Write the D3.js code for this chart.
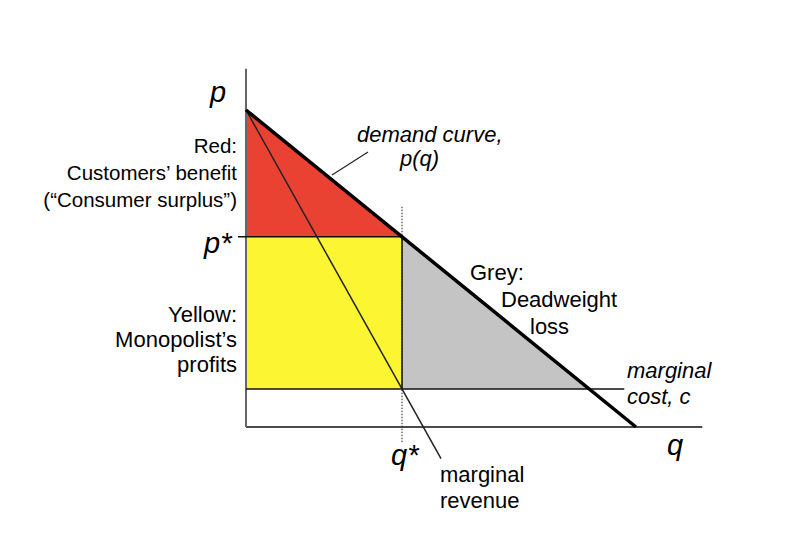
<!DOCTYPE html>
<html>
  <head>
    <meta charset="utf-8">
    <title>Monopoly pricing</title>
    <script src="https://d3js.org/d3.v7.min.js"></script>
    <style>
      body { margin: 0; background: #fff; }
      text { font-family: "Liberation Sans", Arial, sans-serif; fill: #000; }
      .big { font-size: 29px; font-style: italic; }
      .lbl { font-size: 22px; }
      .small { font-size: 20.5px; }
      .it { font-style: italic; }
    </style>
  </head>
  <body>
    <div id="chart"></div>

    <script>
      // model values (q, p)
      const demand = [[0, 10], [10, 0]];
      const marginalRevenue = [[0, 10], [5.0, -1.0]];
      const pStar = 6;
      const qStar = 4;
      const cost = 1.2;
      const qMax = 11.7;   // end of q axis
      const pMax = 11.3;   // top of p axis
      const mcEnd = 9.7;   // where the marginal cost line stops
      const qStarGuide = [6.95, -0.5];

      // shaded regions
      const consumerSurplus = [[0, 10], [0, pStar], [qStar, pStar]];
      const profits = [[0, pStar], [qStar, pStar], [qStar, cost], [0, cost]];
      const deadweight = [[qStar, pStar], [qStar, cost], [10 - cost, cost]];

      const width = 800, height = 549;

      const svg = d3.select("#chart")
        .append("svg")
        .attr("width", width)
        .attr("height", height);

      const x = d3.scaleLinear().domain([0, 10]).range([246, 636]);
      const y = d3.scaleLinear().domain([0, 10]).range([427, 110]);

      const line = d3.line().x(d => x(d[0])).y(d => y(d[1]));
      const area = d => line(d) + "Z";

      // fills
      svg.append("path").attr("d", area(consumerSurplus)).attr("fill", "#e94233");
      svg.append("path").attr("d", area(profits)).attr("fill", "#fbf532");
      svg.append("path").attr("d", area(deadweight)).attr("fill", "#c4c4c4");

      // axes
      svg.append("line")
        .attr("x1", x(0)).attr("x2", x(qMax))
        .attr("y1", y(0)).attr("y2", y(0))
        .attr("stroke", "#111").attr("stroke-width", 1.5);
      svg.append("line")
        .attr("x1", x(0)).attr("x2", x(0))
        .attr("y1", y(0)).attr("y2", y(pMax))
        .attr("stroke", "#666").attr("stroke-width", 2);

      // p* tick and lines
      svg.append("line")
        .attr("x1", x(0) - 8).attr("x2", x(qStar))
        .attr("y1", y(pStar)).attr("y2", y(pStar))
        .attr("stroke", "#111").attr("stroke-width", 1.5);
      svg.append("line")
        .attr("x1", x(qStar)).attr("x2", x(qStar))
        .attr("y1", y(pStar)).attr("y2", y(cost))
        .attr("stroke", "#111").attr("stroke-width", 1.5);

      // dotted q* guide
      svg.append("line")
        .attr("x1", x(qStar)).attr("x2", x(qStar))
        .attr("y1", y(qStarGuide[0])).attr("y2", y(qStarGuide[1]))
        .attr("stroke", "#222").attr("stroke-width", 1)
        .attr("stroke-dasharray", "1.5,1.5");

      // marginal cost
      svg.append("line")
        .attr("x1", x(0)).attr("x2", x(mcEnd))
        .attr("y1", y(cost)).attr("y2", y(cost))
        .attr("stroke", "#111").attr("stroke-width", 1.5);

      // marginal revenue
      svg.append("path")
        .attr("d", line(marginalRevenue))
        .attr("fill", "none").attr("stroke", "#222").attr("stroke-width", 1.5);

      // demand curve
      svg.append("path")
        .attr("d", line(demand))
        .attr("fill", "none").attr("stroke", "#000").attr("stroke-width", 3.5);

      // leader line to demand label
      svg.append("line")
        .attr("x1", 332).attr("y1", 175).attr("x2", 368).attr("y2", 152)
        .attr("stroke", "#222").attr("stroke-width", 1.2);

      // axis symbols
      svg.append("text").attr("class", "big").attr("x", 210).attr("y", 102).text("p");
      svg.append("text").attr("class", "big").attr("x", 204).attr("y", 253).text("p*");
      svg.append("text").attr("class", "big").attr("x", 391).attr("y", 465).text("q*");
      svg.append("text").attr("class", "big").attr("x", 667).attr("y", 455).text("q");

      function block(lines, xPos, y0, dy, anchor, cls) {
        const t = svg.append("text")
          .attr("class", cls)
          .attr("text-anchor", anchor);
        lines.forEach((s, i) => {
          const l = Array.isArray(s) ? s : [s, xPos];
          t.append("tspan").attr("x", l[1]).attr("y", y0 + i * dy).text(l[0]);
        });
      }

      block(["Red:", "Customers’ benefit", "(“Consumer surplus”)"], 237, 153, 27, "end", "small");
      block(["Yellow:", "Monopolist’s", "profits"], 237, 322, 25, "end", "lbl");
      block([["demand curve,", 357], ["p(q)", 400]], 0, 142, 24, "start", "lbl it");
      block([["Grey:", 470], ["Deadweight", 501], ["loss", 530]], 0, 280, 27, "start", "lbl");
      block(["marginal", "cost, c"], 627, 378, 26, "start", "lbl it");
      block(["marginal", "revenue"], 440, 482, 26, "start", "lbl");
    </script>
  </body>
</html>
